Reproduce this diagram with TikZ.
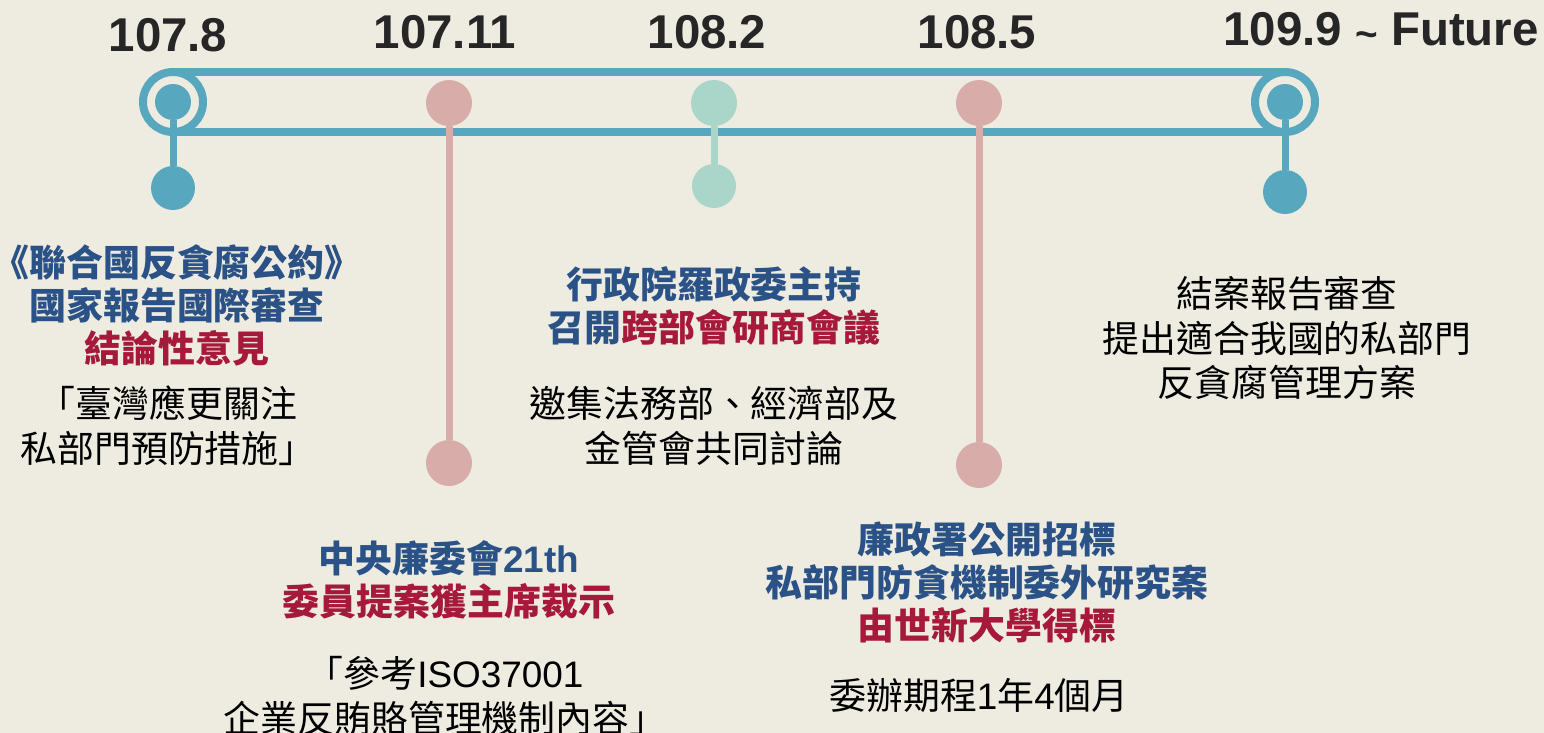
\documentclass[tikz,border=0pt]{standalone}
\usepackage{fontspec}
\setmainfont{Liberation Sans}
\newfontfamily\cjk{Noto Sans CJK TC}

\definecolor{bgpaper}{HTML}{EEEBE0}
\definecolor{lineteal}{HTML}{57A8BF}
\definecolor{dotpink}{HTML}{D8ACA9}
\definecolor{dotgreen}{HTML}{A9D6C8}
\definecolor{headblue}{HTML}{2A5287}
\definecolor{headred}{HTML}{A6193A}
\definecolor{yeargray}{HTML}{262626}

\tikzset{
  year/.style={font=\fontsize{27}{30}\selectfont\bfseries, text=yeargray},
  ring/.style={circle, draw=lineteal, line width=0.16cm, minimum size=1.2cm, inner sep=0pt, outer sep=0pt},
  dot/.style={circle, fill=#1, inner sep=0pt, outer sep=0pt},
  stem/.style={line width=0.14cm, draw=#1},
  track/.style={line width=0.16cm, draw=lineteal},
  head/.style={font=\cjk\fontsize{21}{24.5}\selectfont\bfseries, align=center, text=headblue},
  body/.style={font=\cjk\fontsize{21}{25.5}\selectfont, align=center, text=black},
}

\begin{document}
\begin{tikzpicture}[x=0.02cm, y=-0.02cm]
  \fill[bgpaper] (0,0) rectangle (1544,733);
  \useasboundingbox (0,0) rectangle (1544,733);

  % years
  \node[year] (y1) at (168,35) {107.8};
  \node[year] (y2) at (445,32) {107.11};
  \node[year] (y3) at (707,32) {108.2};
  \node[year] (y4) at (977,32) {108.5};
  \node[year] (y5) at (1381,30) {109.9 \raisebox{-1pt}{\fontsize{22}{22}\selectfont\textasciitilde} Future};

  % track
  \node[ring] (r1) at (173,102) {};
  \node[ring] (r5) at (1285,102) {};
  \draw[track] (r1.north) -- (r5.north);
  \draw[track] (r1.south) -- (r5.south);

  % dots
  \node[dot=lineteal, minimum size=0.72cm] (t1) at (173,102) {};
  \node[dot=lineteal, minimum size=0.88cm] (b1) at (173,188) {};
  \node[dot=dotpink, minimum size=0.92cm] (t2) at (449,103) {};
  \node[dot=dotpink, minimum size=0.92cm] (b2) at (449,463) {};
  \node[dot=dotgreen, minimum size=0.92cm] (t3) at (714,103) {};
  \node[dot=dotgreen, minimum size=0.88cm] (b3) at (714,186) {};
  \node[dot=dotpink, minimum size=0.92cm] (t4) at (979,103) {};
  \node[dot=dotpink, minimum size=0.92cm] (b4) at (979,465) {};
  \node[dot=lineteal, minimum size=0.72cm] (t5) at (1285,102) {};
  \node[dot=lineteal, minimum size=0.88cm] (b5) at (1285,192) {};

  \draw[stem=lineteal] (t1) -- (b1);
  \draw[stem=dotpink] (t2) -- (b2);
  \draw[stem=dotgreen] (t3) -- (b3);
  \draw[stem=dotpink] (t4) -- (b4);
  \draw[stem=lineteal] (t5) -- (b5);

  % 107.8
  \node[head] (h1) at (177,305) {《聯合國反貪腐公約》\\國家報告國際審查\\\textcolor{headred}{結論性意見}};
  \node[body] (n1) at (168,426) {「臺灣應更關注\\私部門預防措施」};

  % 107.11
  \node[head] (h2) at (449,580) {中央廉委會{\rmfamily 21th}\\\textcolor{headred}{委員提案獲主席裁示}};
  \node[body] (n2) at (445,696) {「參考{\rmfamily ISO37001}\\企業反賄賂管理機制內容」};

  % 108.2
  \node[head] (h3) at (714,306) {行政院羅政委主持\\召開\textcolor{headred}{跨部會研商會議}};
  \node[body] (n3) at (714,426) {邀集法務部、經濟部及\\金管會共同討論};

  % 108.5
  \node[head] (h4) at (987,582) {廉政署公開招標\\私部門防貪機制委外研究案\\\textcolor{headred}{由世新大學得標}};
  \node[body] (n4) at (979,695) {委辦期程{\rmfamily 1}年{\rmfamily 4}個月};

  % 109.9
  \node[body] (n5) at (1287,338) {結案報告審查\\提出適合我國的私部門\\反貪腐管理方案};
\end{tikzpicture}
\end{document}
